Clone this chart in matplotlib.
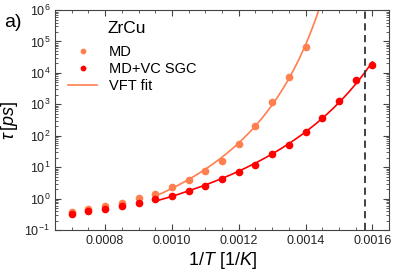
# tau vs 1/T for ZrCu, MD and MD+VC SGC with VFT fits

import numpy as np
import matplotlib.pyplot as plt

plt.rcParams['font.family'] = ['Liberation Sans', 'DejaVu Sans']
plt.rcParams['mathtext.fontset'] = 'custom'
plt.rcParams['mathtext.rm'] = 'Liberation Sans'
plt.rcParams['mathtext.it'] = 'Liberation Sans:italic'

invT_md = [0.00070, 0.00075, 0.00080, 0.00085, 0.00090, 0.00095, 0.00100,
           0.00105, 0.00110, 0.00115, 0.00120, 0.00125, 0.00130, 0.00135, 0.00140]
tau_md = [0.38, 0.47, 0.59, 0.74, 1.02, 1.4, 2.3,
          3.9, 7.6, 16, 55, 210, 1200, 7600, 68000]

invT_sgc = [0.00070, 0.00075, 0.00080, 0.00085, 0.00090, 0.00095, 0.00100,
            0.00105, 0.00110, 0.00115, 0.00120, 0.00125, 0.00130, 0.00135,
            0.00140, 0.00145, 0.00150, 0.00155, 0.00160]
tau_sgc = [0.33, 0.40, 0.48, 0.59, 0.74, 0.95, 1.25,
           1.8, 2.5, 4.2, 6.9, 12, 26, 52,
           127, 375, 1300, 5900, 17400]

T_glass = 0.001578
fit_start = 0.00095


def VFT_fit(x, y):
    # fit log tau = a + b/(T - T0), grid search on T0
    T = 1.0 / np.array(x)
    ly = np.log(np.array(y))
    best = None
    for T0 in np.linspace(1, T.min() - 1, 3000):
        A = np.vstack([np.ones_like(T), 1.0 / (T - T0)]).T
        coef, res, _, _ = np.linalg.lstsq(A, ly, rcond=None)
        err = np.sum((A @ coef - ly) ** 2)
        if best is None or err < best[0]:
            best = (err, T0, coef)
    return best[1], best[2]


def VFT_curve(xs, T0, coef):
    T = 1.0 / xs
    out = np.full_like(xs, np.nan)
    ok = T > T0
    out[ok] = np.exp(coef[0] + coef[1] / (T[ok] - T0))
    return out


c_md = '#FF7F4F'
c_sgc = '#FF0000'

fig = plt.figure(figsize=(3.97, 2.72), dpi=100)
ax = fig.add_axes([0.1385, 0.1544, 0.8415, 0.8086])

x_md = np.array(invT_md)
m = x_md >= fit_start - 1e-9
T0, coef = VFT_fit(x_md[m], np.array(tau_md)[m])
xs = np.linspace(fit_start, 0.00145, 400)
ax.plot(xs, VFT_curve(xs, T0, coef), color=c_md, lw=1.2, label='VFT fit')

x_sgc = np.array(invT_sgc)
m2 = x_sgc >= fit_start - 1e-9
T0b, coefb = VFT_fit(x_sgc[m2], np.array(tau_sgc)[m2])
xs2 = np.linspace(fit_start, 0.0016, 400)
ax.plot(xs2, VFT_curve(xs2, T0b, coefb), color=c_sgc, lw=1.2)

ax.plot(invT_md, tau_md, 'o', color=c_md, ms=4.5, label='MD')
ax.plot(invT_sgc, tau_sgc, 'o', color=c_sgc, ms=4.5, label='MD+VC SGC')

ax.axvline(T_glass, color='#333333', ls='--', lw=1.3, dashes=(4, 2.5))

ax.set_yscale('log')
ax.set_xlim(0.000655, 0.001645)
ax.set_ylim(1e-1, 1e6)
ax.set_xticks([0.0008, 0.0010, 0.0012, 0.0014, 0.0016])
ax.set_xticklabels(['0.0008', '0.0010', '0.0012', '0.0014', '0.0016'])
ax.set_xticks(np.arange(0.00065, 0.00166, 0.00005), minor=True)
ax.tick_params(which='both', direction='in', top=True, right=True, labelsize=9,
               color='#444444', labelcolor='#222222')
ax.tick_params(which='major', length=4)
ax.tick_params(which='minor', length=2)
for s in ax.spines.values():
    s.set_color('#444444')

ax.set_xlabel(r'$1/T\ [1/K]$', fontsize=13, labelpad=2)
ax.set_ylabel(r'$\tau\,[ps]$', fontsize=13, labelpad=3)

h, l = ax.get_legend_handles_labels()
order = [1, 2, 0]
leg = ax.legend([h[i] for i in order], [l[i] for i in order],
                loc='upper left', frameon=False, fontsize=10.5,
                markerscale=0.7, handlelength=2.0, labelspacing=0.2,
                bbox_to_anchor=(0.0, 0.9))
ax.text(0.158, 0.918, 'ZrCu', transform=ax.transAxes, fontsize=12.5,
        va='center', ha='left')

fig.text(0.01, 0.9, 'a)', fontsize=14)

plt.savefig('out.png', dpi=100)
